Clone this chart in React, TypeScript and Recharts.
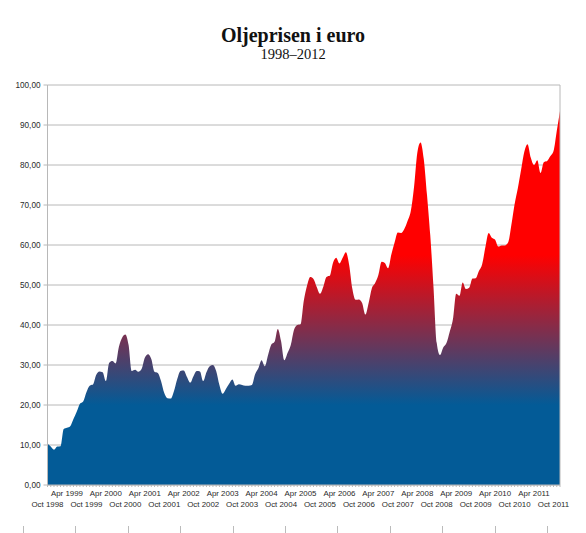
import React from "react";
import {
  AreaChart,
  Area,
  XAxis,
  YAxis,
  CartesianGrid,
  ReferenceLine,
} from "recharts";

// månedlig pris, okt 1998 – des 2011 (euro per fat)
const prices = [
  10.3, 9.6, 8.8, 9.6, 9.7, 14.0, 14.3, 14.7, 16.5, 18.3,
  20.3, 20.9, 23.2, 24.8, 25.1, 27.5, 28.4, 28.2, 26.0, 30.5,
  31.0, 30.4, 34.5, 36.8, 37.6, 35.0, 28.5, 28.8, 28.3, 29.0,
  31.8, 32.7, 31.5, 28.3, 28.0, 26.0, 23.0, 21.7, 21.6, 23.5,
  26.5, 28.5, 28.6, 27.0, 25.6, 27.2, 28.5, 28.4, 26.0, 28.2,
  29.7, 30.0, 28.5, 25.0, 22.8, 24.0, 25.3, 26.4, 24.8, 25.2,
  25.0, 24.8, 24.8, 25.0, 27.7, 29.2, 31.2, 29.7, 32.5, 35.1,
  35.8, 39.0, 36.0, 31.2, 33.0, 35.0, 38.8, 40.0, 40.2, 46.0,
  49.8, 52.0, 51.5, 49.5, 47.8, 49.5, 52.0, 52.3, 55.5, 56.8,
  55.4, 56.8, 58.2, 55.0, 49.0, 46.3, 46.4, 45.5, 42.6, 45.5,
  49.2, 50.5, 52.5, 55.8, 55.5, 54.2, 57.6, 60.6, 63.1, 63.0,
  64.0, 66.0, 68.5, 74.5, 83.0, 85.6, 81.5, 72.5, 62.5, 49.5,
  35.5, 32.5, 34.4, 35.5, 38.3, 41.5, 47.8, 47.3, 50.6, 49.0,
  49.3, 51.6, 51.7, 53.5, 55.2, 59.5, 63.0, 61.8, 61.3, 59.6,
  59.9, 59.9, 60.6, 65.0, 70.2, 74.2, 78.8, 83.3, 85.2, 81.8,
  80.0, 81.2, 78.0, 80.7, 81.0, 82.2, 83.5, 88.5, 93.5,
];

// etikett hver sjette måned
const tickLabels = [
  "Oct 1998", "Apr 1999", "Oct 1999", "Apr 2000", "Oct 2000", "Apr 2001",
  "Oct 2001", "Apr 2002", "Oct 2002", "Apr 2003", "Oct 2003", "Apr 2004",
  "Oct 2004", "Apr 2005", "Oct 2005", "Apr 2006", "Oct 2006", "Apr 2007",
  "Oct 2007", "Apr 2008", "Oct 2008", "Apr 2009", "Oct 2009", "Apr 2010",
  "Oct 2010", "Apr 2011", "Oct 2011",
];

const yTicks = [0, 10, 20, 30, 40, 50, 60, 70, 80, 90, 100];

const data = prices.map((price, i) => ({ i, price }));
const allTicks = data.map((d) => d.i);
const last = prices.length - 1;

const labelFont = "'Liberation Sans', Arial, sans-serif";

function MonthTick(props: any) {
  const { x, y, payload } = props;
  const idx = payload.value;
  if (idx % 6 !== 0) return null;
  const label = tickLabels[idx / 6];
  const lower = label.startsWith("Oct");
  return (
    <text
      x={x}
      y={y}
      dy={lower ? 19 : 8}
      textAnchor="middle"
      fontSize={7.9}
      fontFamily={labelFont}
      fill="#2a2a2a"
    >
      {label}
    </text>
  );
}

export default function App() {
  return (
    <div
      style={{
        position: "absolute",
        left: 0,
        top: 0,
        width: 586,
        height: 533,
        background: "#fff",
        overflow: "hidden",
      }}
    >
      <div
        style={{
          position: "absolute",
          top: 24,
          width: 586,
          textAlign: "center",
          fontFamily: "'Liberation Serif', 'DejaVu Serif', serif",
          color: "#111",
        }}
      >
        <div style={{ fontSize: 20, fontWeight: "bold", lineHeight: "22px" }}>
          Oljeprisen i euro
        </div>
        <div style={{ fontSize: 14.5, lineHeight: "17px" }}>1998–2012</div>
      </div>

      <div style={{ position: "absolute", left: 0, top: 0 }}>
        <AreaChart
          width={586}
          height={533}
          data={data}
          margin={{ top: 85, right: 26, bottom: 18, left: 0 }}
        >
          <defs>
            <linearGradient
              id="oilFill"
              gradientUnits="userSpaceOnUse"
              x1="0"
              y1="405"
              x2="0"
              y2="255"
            >
              <stop offset="0" stopColor="#035b97" />
              <stop offset="1" stopColor="#ff0000" />
            </linearGradient>
          </defs>
          <CartesianGrid vertical={false} stroke="#b8b8b8" />
          <XAxis
            dataKey="i"
            type="number"
            domain={[0, last]}
            ticks={allTicks}
            interval={0}
            height={30}
            tickSize={2}
            tickMargin={1}
            stroke="#b8b8b8"
            tick={<MonthTick />}
          />
          <YAxis
            domain={[0, 100]}
            ticks={yTicks}
            width={47.5}
            tickSize={4}
            tickMargin={3}
            stroke="#b8b8b8"
            tickFormatter={(v: number) => v.toFixed(2).replace(".", ",")}
            tick={{ fontSize: 8.2, fontFamily: labelFont, fill: "#2a2a2a" }}
          />
          <ReferenceLine x={last} stroke="#b8b8b8" />
          <Area
            type="monotone"
            dataKey="price"
            stroke="none"
            fill="url(#oilFill)"
            fillOpacity={1}
            isAnimationActive={false}
          />
        </AreaChart>
      </div>

      {/* små merker nederst på siden */}
      {Array.from({ length: 11 }, (_, k) => (
        <div
          key={k}
          style={{
            position: "absolute",
            left: 23 + k * 52.4,
            top: 526,
            width: 1,
            height: 7,
            background: "#bbb",
          }}
        />
      ))}
    </div>
  );
}
